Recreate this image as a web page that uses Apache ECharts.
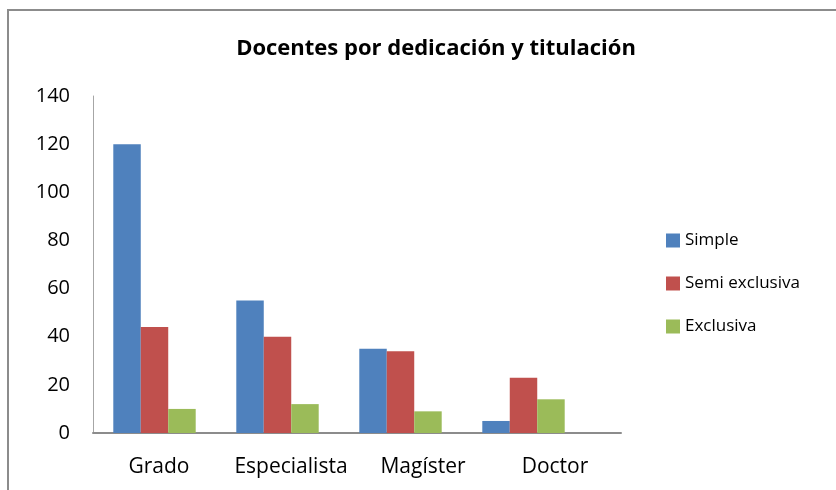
<!DOCTYPE html>
<html>
<head>
<meta charset="utf-8">
<script src="https://cdn.jsdelivr.net/npm/echarts@6/dist/echarts.min.js"></script>
<style>
  html, body { margin: 0; padding: 0; background: #fff; }
  #frame {
    position: absolute; left: 7px; top: 9px; width: 900px; height: 600px;
    border-left: 2px solid #8c8c8c; border-top: 2px solid #8c8c8c;
  }
  #chart { position: absolute; left: 0; top: 0; width: 836px; height: 490px; }
</style>
</head>
<body>
<div id="frame"></div>
<div id="chart"></div>
<script>
// datos
var categorias = ['Grado', 'Especialista', 'Magíster', 'Doctor']
var simple = [120, 55, 35, 5]
var semiExclusiva = [44, 40, 34, 23]
var exclusiva = [10, 12, 9, 14]

var font = '"Open Sans", "Noto Sans", sans-serif'

var chart = echarts.init(document.getElementById('chart'))
var option = {
  animation: false,
  title: {
    text: 'Docentes por dedicación y titulación',
    left: 431,
    textAlign: 'center',
    top: 33,
    textStyle: { fontFamily: font, fontSize: 22, fontWeight: 'bold', color: '#000' }
  },
  legend: {
    orient: 'vertical',
    left: 661,
    top: 227,
    itemWidth: 14,
    itemHeight: 14,
    itemGap: 26,
    icon: 'rect',
    textStyle: { fontFamily: font, fontSize: 17, color: '#000' },
    data: ['Simple', 'Semi exclusiva', 'Exclusiva']
  },
  // grid 0: barras, grid 1: eje con etiquetas
  grid: [
    { left: 93, right: 251, top: 96, bottom: 57 },
    { left: 93, right: 215, top: 96, bottom: 57 }
  ],
  xAxis: [
    {
      type: 'category',
      gridIndex: 0,
      data: categorias,
      axisLine: { show: false },
      axisTick: { show: false },
      axisLabel: { show: false }
    },
    {
      type: 'category',
      gridIndex: 1,
      data: categorias,
      axisLine: { lineStyle: { color: '#8c8c8c', width: 2 } },
      axisTick: { show: false },
      axisLabel: { fontFamily: font, fontSize: 21, color: '#000', margin: 24, interval: 0 }
    }
  ],
  yAxis: [
    {
      type: 'value',
      gridIndex: 0,
      min: 0,
      max: 140,
      interval: 20,
      axisLine: { show: true, lineStyle: { color: '#a6a6a6', width: 1 } },
      axisTick: { show: false },
      splitLine: { show: false },
      axisLabel: { fontFamily: font, fontSize: 20, color: '#000', margin: 23 }
    },
    {
      type: 'value',
      gridIndex: 1,
      min: 0,
      max: 140,
      interval: 20,
      show: false
    }
  ],
  series: [
    {
      name: 'Simple',
      type: 'bar',
      barGap: '0%',
      barCategoryGap: '33%',
      itemStyle: { color: '#4F81BD' },
      data: simple
    },
    {
      name: 'Semi exclusiva',
      type: 'bar',
      itemStyle: { color: '#C0504D' },
      data: semiExclusiva
    },
    {
      name: 'Exclusiva',
      type: 'bar',
      itemStyle: { color: '#9BBB59' },
      data: exclusiva
    }
  ]
}
chart.setOption(option)
</script>
</body>
</html>
